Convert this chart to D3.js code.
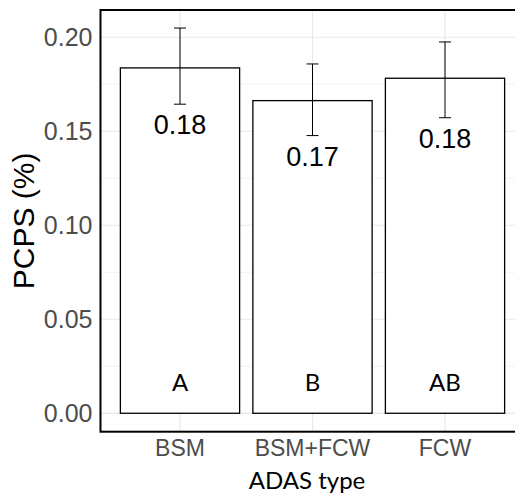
<!DOCTYPE html>
<html>
<head>
<meta charset="utf-8">
<script src="https://cdn.jsdelivr.net/npm/d3@7/dist/d3.min.js"></script>
<style>
  html, body { margin: 0; padding: 0; background: #fff; }
  svg { display: block; }
</style>
</head>
<body>
<div id="chart"></div>
<script>
// chart values
const categories = ['BSM', 'BSM+FCW', 'FCW'];
const means = [0.1837, 0.1663, 0.1782];
const errLow = [0.1644, 0.1477, 0.1572];
const errHigh = [0.2049, 0.1858, 0.1975];
const groupLetters = ['A', 'B', 'AB'];
const majorTicks = [0, 0.05, 0.10, 0.15, 0.20];
const minorTicks = [0.025, 0.075, 0.125, 0.175];

const width = 515, height = 495;
const panel = { left: 100.5, right: 524.5, top: 10, bottom: 431.7 };

const svg = d3.select('#chart')
  .append('svg')
  .attr('width', width)
  .attr('height', height);

const x = d3.scaleBand()
  .domain(categories)
  .range([panel.left, panel.right])
  .paddingInner(0.1)
  .paddingOuter(0.15);

const y = d3.scaleLinear()
  .domain([-0.0098, 0.2145])
  .range([panel.bottom, panel.top]);

const cx = d => x(d) + x.bandwidth() / 2;

// Grid lines
const grid = svg.append('g');
grid.selectAll('.minor')
  .data(minorTicks)
  .enter().append('line')
  .attr('x1', panel.left).attr('x2', panel.right)
  .attr('y1', d => y(d)).attr('y2', d => y(d))
  .attr('stroke', '#f2f2f2').attr('stroke-width', 1);

grid.selectAll('.major')
  .data(majorTicks)
  .enter().append('line')
  .attr('x1', panel.left).attr('x2', panel.right)
  .attr('y1', d => y(d)).attr('y2', d => y(d))
  .attr('stroke', '#e8e8e8').attr('stroke-width', 1.2);

grid.selectAll('.vgrid')
  .data(categories)
  .enter().append('line')
  .attr('x1', cx).attr('x2', cx)
  .attr('y1', panel.top).attr('y2', panel.bottom)
  .attr('stroke', '#e8e8e8').attr('stroke-width', 1.2);

// Bars
svg.selectAll('.bar')
  .data(categories)
  .enter().append('rect')
  .attr('class', 'bar')
  .attr('x', d => x(d))
  .attr('y', (d, i) => y(means[i]))
  .attr('width', x.bandwidth())
  .attr('height', (d, i) => y(0) - y(means[i]))
  .attr('fill', '#fff')
  .attr('stroke', '#000')
  .attr('stroke-width', 1.3);

// Error bars
const capHalf = 6;
const eb = svg.selectAll('.err')
  .data(categories)
  .enter().append('g')
  .attr('class', 'err')
  .attr('stroke', '#000')
  .attr('stroke-width', 1);
eb.append('line')
  .attr('x1', cx).attr('x2', cx)
  .attr('y1', (d, i) => y(errLow[i])).attr('y2', (d, i) => y(errHigh[i]));
eb.append('line')
  .attr('x1', d => cx(d) - capHalf).attr('x2', d => cx(d) + capHalf)
  .attr('y1', (d, i) => y(errHigh[i])).attr('y2', (d, i) => y(errHigh[i]));
eb.append('line')
  .attr('x1', d => cx(d) - capHalf).attr('x2', d => cx(d) + capHalf)
  .attr('y1', (d, i) => y(errLow[i])).attr('y2', (d, i) => y(errLow[i]));

// Value labels under the error bars
svg.selectAll('.val')
  .data(categories)
  .enter().append('text')
  .attr('x', cx)
  .attr('y', (d, i) => y(errLow[i]) + 30)
  .attr('text-anchor', 'middle')
  .style('font-family', '"Liberation Sans", Arial, sans-serif')
  .style('font-size', '27px')
  .style('fill', '#000')
  .text((d, i) => d3.format('.2f')(means[i]));

// Group letters
svg.selectAll('.grp')
  .data(categories)
  .enter().append('text')
  .attr('x', cx)
  .attr('y', y(0.012))
  .attr('text-anchor', 'middle')
  .style('font-family', 'Lato, "Open Sans", sans-serif')
  .style('font-size', '24px')
  .style('fill', '#000')
  .text((d, i) => groupLetters[i]);

// Panel border
svg.append('rect')
  .attr('x', panel.left)
  .attr('y', panel.top)
  .attr('width', panel.right - panel.left)
  .attr('height', panel.bottom - panel.top)
  .attr('fill', 'none')
  .attr('stroke', '#000')
  .attr('stroke-width', 2);

// Y axis tick labels
svg.append('g')
  .attr('transform', `translate(${panel.left},0)`)
  .call(d3.axisLeft(y).tickValues(majorTicks).tickSize(0).tickPadding(8).tickFormat(d3.format('.2f')))
  .call(g => g.select('.domain').remove())
  .selectAll('text')
  .style('font-family', '"Liberation Sans", Arial, sans-serif')
  .style('font-size', '25px')
  .style('fill', '#4d4d4d');

// X axis tick labels
svg.append('g')
  .attr('transform', `translate(0,${panel.bottom})`)
  .call(d3.axisBottom(x).tickSize(0).tickPadding(8))
  .call(g => g.select('.domain').remove())
  .selectAll('text')
  .style('font-family', '"Liberation Sans", Arial, sans-serif')
  .style('font-size', '23px')
  .style('fill', '#4d4d4d');

// Axis titles
svg.append('text')
  .attr('x', 307)
  .attr('y', 489)
  .attr('text-anchor', 'middle')
  .style('font-family', 'Lato, "Open Sans", sans-serif')
  .style('font-size', '24px')
  .style('fill', '#000')
  .text('ADAS type');

svg.append('text')
  .attr('transform', `translate(34,${(panel.top + panel.bottom) / 2}) rotate(-90)`)
  .attr('text-anchor', 'middle')
  .style('font-family', '"Liberation Sans", Arial, sans-serif')
  .style('font-size', '30px')
  .style('fill', '#000')
  .text('PCPS (%)');
</script>
</body>
</html>
